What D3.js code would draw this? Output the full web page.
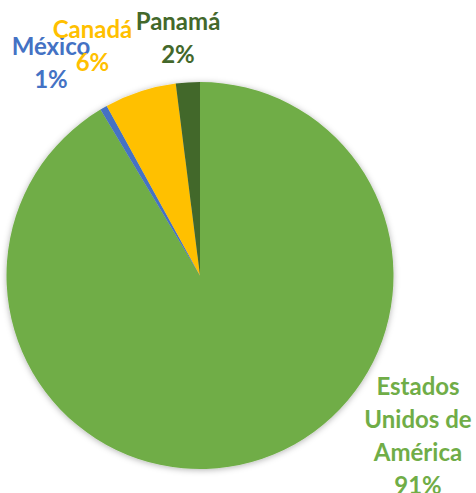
<!DOCTYPE html>
<html lang="es">
<head>
<meta charset="utf-8">
<title>Pie</title>
<script src="https://cdnjs.cloudflare.com/ajax/libs/d3/7.8.5/d3.min.js"></script>
<style>
  body { margin: 0; background: #fff; }
  svg { display: block; }
  .lbl { font-family: Lato, "Open Sans", sans-serif; font-weight: bold; font-size: 24px; }
</style>
</head>
<body>
<div id="chart"></div>
<script>
var paises = ["Estados Unidos de América", "México", "Canadá", "Panamá"];
var valores = [91.4, 0.6, 6.0, 2.0];
var colores = ["#70AD47", "#4472C4", "#FFC000", "#43682B"];

// label lines and their place relative to the pie centre
var lineas = [["Estados", "Unidos de", "América"], ["México"], ["Canadá"], ["Panamá"]];
var labelPos = [[218, 119.5], [-149, -220.5], [-107.5, -237.5], [-22, -245.5]];

var width = 476, height = 493;
var cx = 200, cy = 275.5, radius = 193.5;
var lineH = 33;

var svg = d3.select('#chart').append('svg')
    .attr('width', width)
    .attr('height', height);

var defs = svg.append('defs');
var f = defs.append('filter').attr('id', 'sombra')
    .attr('x', '-10%').attr('y', '-10%').attr('width', '120%').attr('height', '120%');
f.append('feDropShadow')
    .attr('dx', 0).attr('dy', 1)
    .attr('stdDeviation', 3)
    .attr('flood-color', '#000')
    .attr('flood-opacity', 0.3);

var color = d3.scaleOrdinal().domain(paises).range(colores);

var pie = d3.pie().sort(null).value(function (d) { return d.v; });
var datos = paises.map(function (p, i) { return { pais: p, v: valores[i], i: i }; });
var arcs = pie(datos);

var arc = d3.arc().innerRadius(0).outerRadius(radius);

var g = svg.append('g').attr('transform', 'translate(' + cx + ',' + cy + ')');

g.append('g').attr('filter', 'url(#sombra)')
    .selectAll('path')
    .data(arcs)
    .enter()
    .append('path')
    .attr('d', arc)
    .attr('fill', function (d) { return color(d.data.pais); });

var fmt = d3.format('.0f');
arcs.forEach(function (d, i) {
    var txt = lineas[i].concat([fmt(d.data.v) + '%']);
    var t = g.append('text')
        .attr('class', 'lbl')
        .attr('text-anchor', 'middle')
        .attr('fill', color(d.data.pais))
        .attr('x', labelPos[i][0])
        .attr('y', labelPos[i][1]);
    txt.forEach(function (s, k) {
        t.append('tspan')
            .attr('x', labelPos[i][0])
            .attr('dy', k === 0 ? 0 : lineH)
            .text(s);
    });
});
</script>
</body>
</html>
